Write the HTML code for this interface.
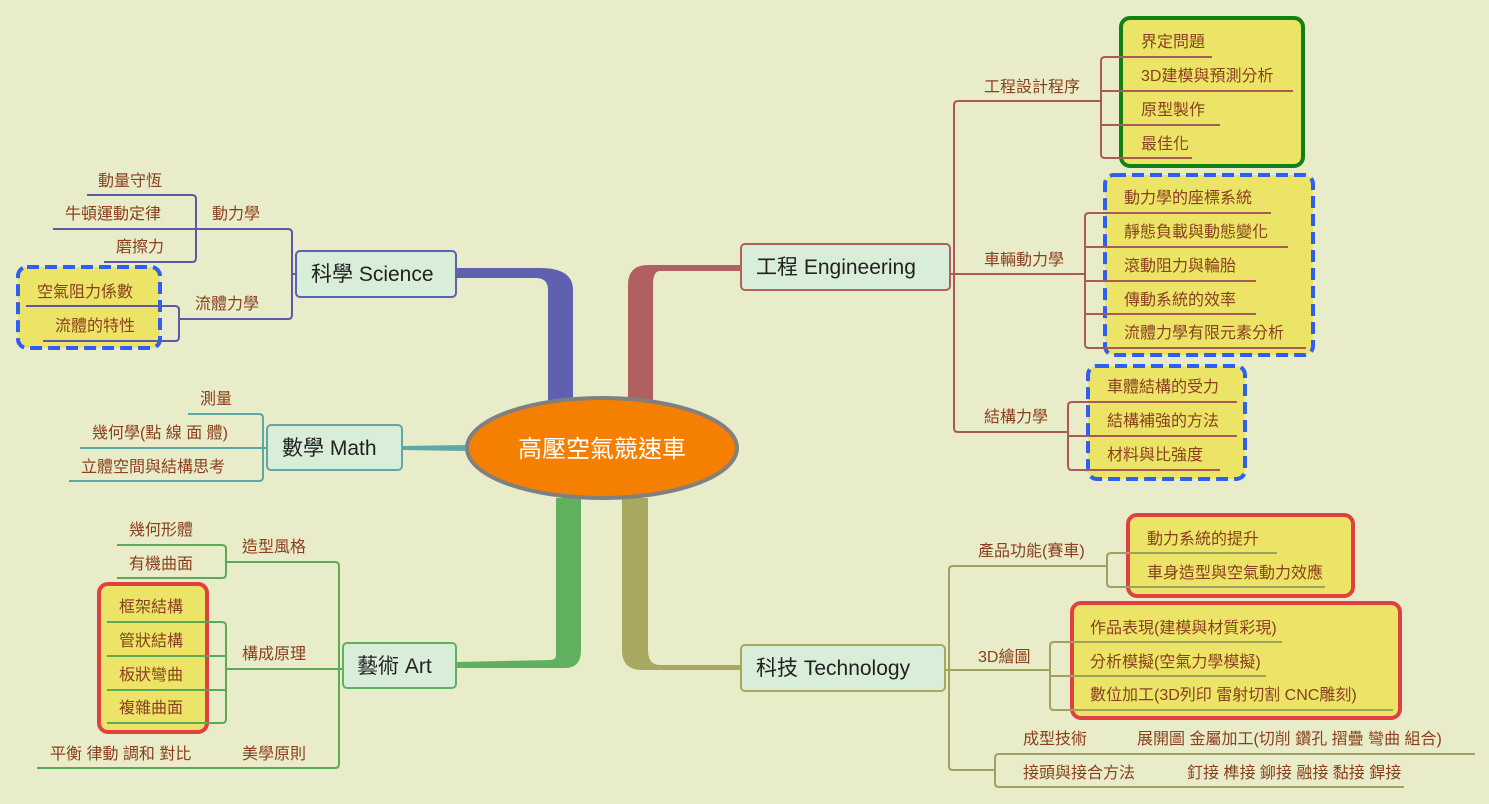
<!DOCTYPE html>
<html><head><meta charset="utf-8"><style>
html,body{margin:0;padding:0;background:#e9ecc8;}
svg{display:block;}
text{font-family:"Liberation Sans","Noto Sans CJK TC",sans-serif;}
.l{font-size:16px;fill:#8a3f1e;}
.m{font-size:21px;fill:#222;}
</style></head><body>
<svg width="1489" height="804" viewBox="0 0 1489 804">
<rect width="1489" height="804" fill="#e9ecc8"/>
<!-- highlight boxes -->
<g fill="#ebe466">
<rect x="18" y="267" width="142" height="81" rx="9" stroke="#2f5ff0" stroke-width="4" stroke-dasharray="12,6"/>
<rect x="99" y="584" width="108" height="148" rx="9" stroke="#e04040" stroke-width="4"/>
<rect x="1121" y="18" width="182" height="148" rx="9" stroke="#128012" stroke-width="4"/>
<rect x="1105" y="175" width="208" height="180" rx="9" stroke="#2f5ff0" stroke-width="4" stroke-dasharray="12,6"/>
<rect x="1088" y="366" width="157" height="113" rx="9" stroke="#2f5ff0" stroke-width="4" stroke-dasharray="12,6"/>
<rect x="1128" y="515" width="225" height="81" rx="9" stroke="#e04040" stroke-width="4"/>
<rect x="1072" y="603" width="328" height="115" rx="9" stroke="#e04040" stroke-width="4"/>
</g>
<!-- thick connectors -->
<path d="M548,400 L548,290 Q548,278 536,278 L456,278 L456,268 L540,268 Q573,268 573,290 L573,400 Z" fill="#6060b0"/>
<path d="M628,400 L628,285 Q628,265 648,265 L742,265 L742,271 L660,271 Q653,271 653,285 L653,400 Z" fill="#b06060"/>
<path d="M465,445 L402,446 L402,450 L465,451 Z" fill="#60a8a8"/>
<path d="M556,498 L556,655 Q556,660 550,660 L456,662 L456,668 L565,668 Q581,668 581,650 L581,498 Z" fill="#60b060"/>
<path d="M622,498 L622,650 Q622,670 642,670 L742,670 L742,665 L660,665 Q648,665 648,650 L648,498 Z" fill="#a8a860"/>
<!-- thin lines -->
<g fill="none" stroke-width="2" stroke-linejoin="round">
<g stroke="#5a5aa8">
<path d="M296,274 L292,274 M53,229 L288,229 Q292,229 292,233 L292,315 Q292,319 288,319 L180,319"/>
<path d="M87,195 L192,195 Q196,195 196,199 L196,258 Q196,262 192,262 L104,262"/>
<path d="M26,306 L175,306 Q179,306 179,310 L179,337 Q179,341 175,341 L43,341"/>
</g>
<g stroke="#5aa8a8">
<path d="M188,414 L259,414 Q263,414 263,418 L263,477 Q263,481 259,481 L69,481 M80,448 L267,448"/>
</g>
<g stroke="#5aaa5a">
<path d="M226,562 L335,562 Q339,562 339,566 L339,764 Q339,768 335,768 L37,768 M226,669 L343,669"/>
<path d="M117,545 L222,545 Q226,545 226,549 L226,574 Q226,578 222,578 L117,578"/>
<path d="M107,622 L222,622 Q226,622 226,626 L226,719 Q226,723 222,723 L107,723 M107,656 L226,656 M107,690 L226,690"/>
</g>
<g stroke="#a85a5a">
<path d="M1100,101 L958,101 Q954,101 954,105 L954,428 Q954,432 958,432 L1068,432 M950,274 L1085,274"/>
<path d="M1212,57 L1105,57 Q1101,57 1101,61 L1101,154 Q1101,158 1105,158 L1192,158 M1101,91 L1293,91 M1101,125 L1220,125"/>
<path d="M1271,213 L1089,213 Q1085,213 1085,217 L1085,344 Q1085,348 1089,348 L1306,348 M1085,247 L1288,247 M1085,281 L1256,281 M1085,314 L1256,314"/>
<path d="M1237,402 L1072,402 Q1068,402 1068,406 L1068,466 Q1068,470 1072,470 L1220,470 M1068,436 L1237,436"/>
</g>
<g stroke="#a0a060">
<path d="M1107,566 L953,566 Q949,566 949,570 L949,766 Q949,770 953,770 L995,770 M945,670 L1050,670"/>
<path d="M1277,553 L1111,553 Q1107,553 1107,557 L1107,583 Q1107,587 1111,587 L1325,587"/>
<path d="M1282,642 L1054,642 Q1050,642 1050,646 L1050,706 Q1050,710 1054,710 L1393,710 M1050,676 L1266,676"/>
<path d="M1475,754 L999,754 Q995,754 995,758 L995,783 Q995,787 999,787 L1404,787"/>
</g>
</g>
<!-- main nodes -->
<g fill="#d9eed8" stroke-width="2">
<rect x="296" y="251" width="160" height="46" rx="4" stroke="#6060b0"/>
<rect x="267" y="425" width="135" height="45" rx="4" stroke="#60a8a8"/>
<rect x="343" y="643" width="113" height="45" rx="4" stroke="#60b060"/>
<rect x="741" y="244" width="209" height="46" rx="4" stroke="#b06060"/>
<rect x="741" y="645" width="204" height="46" rx="4" stroke="#a8a860"/>
</g>
<text class="m" x="311" y="281">科學 Science</text>
<text class="m" x="282" y="455">數學 Math</text>
<text class="m" x="357" y="673">藝術 Art</text>
<text class="m" x="756" y="274">工程 Engineering</text>
<text class="m" x="756" y="675">科技 Technology</text>
<ellipse cx="602" cy="448" rx="135" ry="50" fill="#f57f00" stroke="#808080" stroke-width="4"/>
<text x="602" y="457" text-anchor="middle" style="font-size:24px;fill:#fff">高壓空氣競速車</text>
<!-- leaf texts -->
<g class="l">
<text x="98" y="186">動量守恆</text>
<text x="65" y="219">牛頓運動定律</text>
<text x="116" y="252">磨擦力</text>
<text x="212" y="219">動力學</text>
<text x="195" y="309">流體力學</text>
<text x="37" y="297">空氣阻力係數</text>
<text x="55" y="331">流體的特性</text>
<text x="200" y="404">測量</text>
<text x="92" y="438">幾何學(點 線 面 體)</text>
<text x="81" y="472">立體空間與結構思考</text>
<text x="129" y="535">幾何形體</text>
<text x="129" y="569">有機曲面</text>
<text x="242" y="552">造型風格</text>
<text x="119" y="612">框架結構</text>
<text x="119" y="646">管狀結構</text>
<text x="119" y="680">板狀彎曲</text>
<text x="119" y="713">複雜曲面</text>
<text x="242" y="659">構成原理</text>
<text x="242" y="759">美學原則</text>
<text x="50" y="759">平衡 律動 調和 對比</text>
<text x="984" y="92">工程設計程序</text>
<text x="984" y="265">車輛動力學</text>
<text x="984" y="422">結構力學</text>
<text x="1141" y="47">界定問題</text>
<text x="1141" y="81">3D建模與預測分析</text>
<text x="1141" y="115">原型製作</text>
<text x="1141" y="149">最佳化</text>
<text x="1124" y="203">動力學的座標系統</text>
<text x="1124" y="237">靜態負載與動態變化</text>
<text x="1124" y="271">滾動阻力與輪胎</text>
<text x="1124" y="305">傳動系統的效率</text>
<text x="1124" y="338">流體力學有限元素分析</text>
<text x="1107" y="392">車體結構的受力</text>
<text x="1107" y="426">結構補強的方法</text>
<text x="1107" y="460">材料與比強度</text>
<text x="978" y="556">產品功能(賽車)</text>
<text x="978" y="662">3D繪圖</text>
<text x="1147" y="544">動力系統的提升</text>
<text x="1147" y="578">車身造型與空氣動力效應</text>
<text x="1090" y="633">作品表現(建模與材質彩現)</text>
<text x="1090" y="667">分析模擬(空氣力學模擬)</text>
<text x="1090" y="700">數位加工(3D列印 雷射切割 CNC雕刻)</text>
<text x="1023" y="744">成型技術</text>
<text x="1137" y="744">展開圖  金屬加工(切削 鑽孔 摺疊 彎曲 組合)</text>
<text x="1023" y="778">接頭與接合方法</text>
<text x="1187" y="778">釘接 榫接 鉚接 融接 黏接 銲接</text>
</g>
</svg>
</body></html>
